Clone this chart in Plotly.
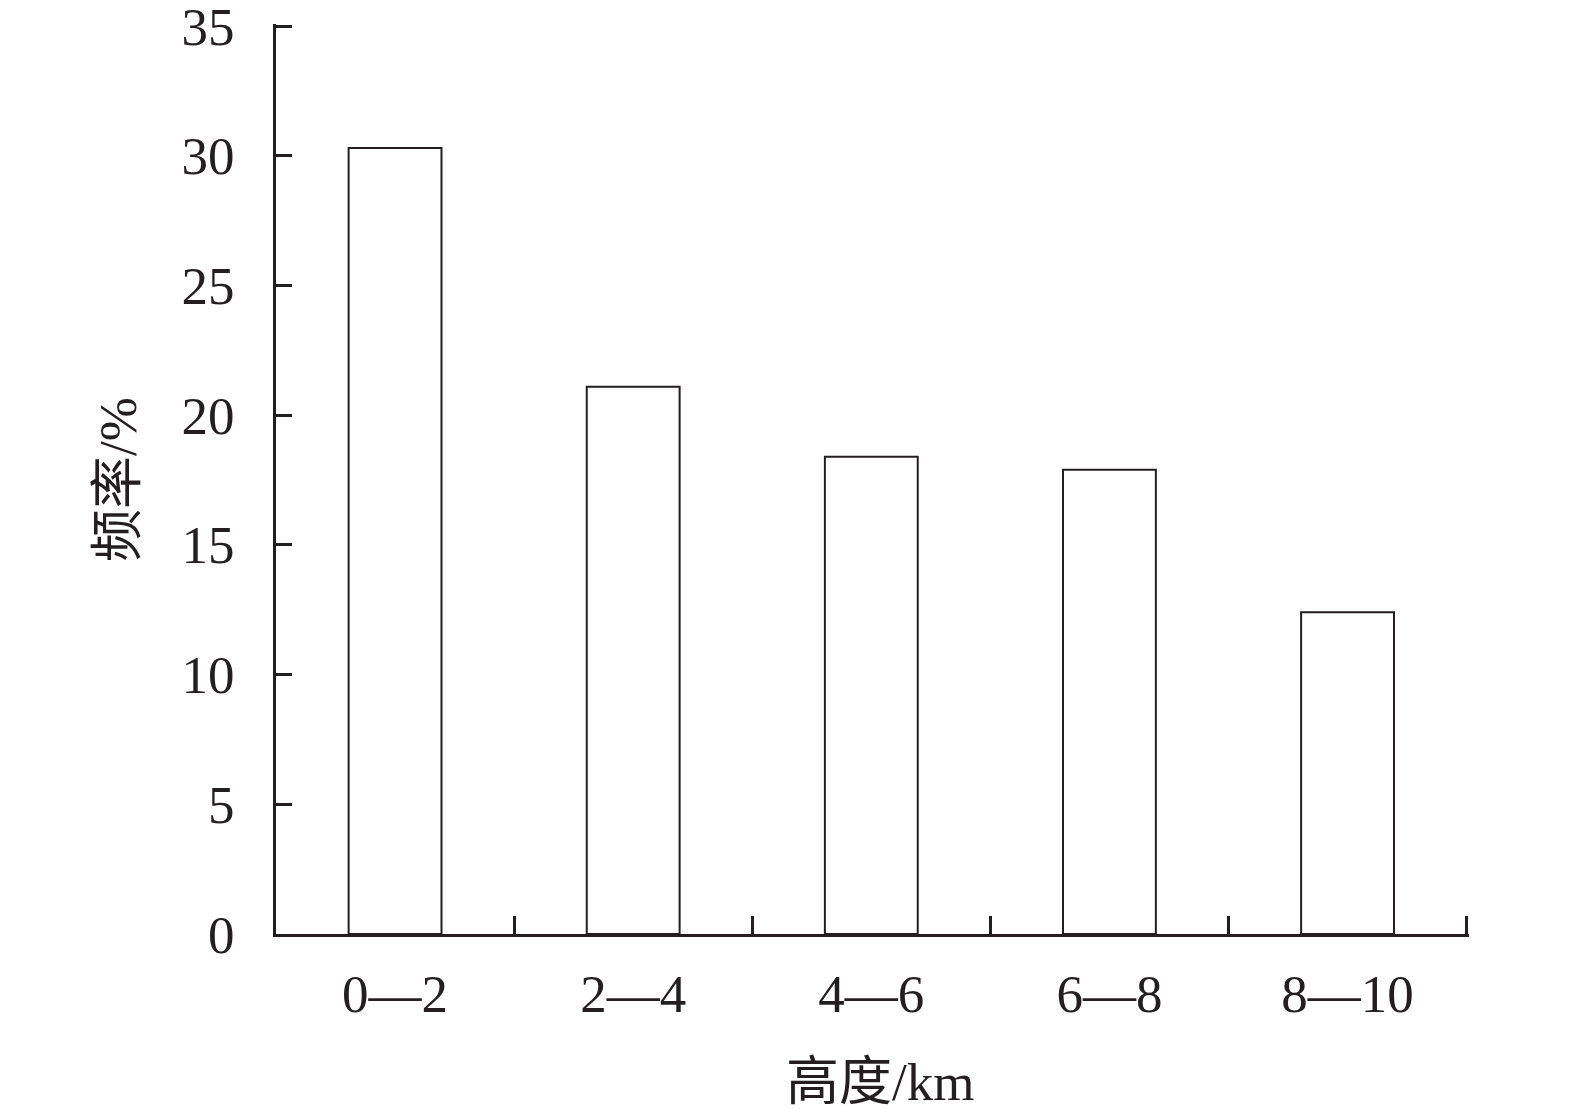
import plotly.graph_objects as go

categories = ["0\u20142", "2\u20144", "4\u20146", "6\u20148", "8\u201410"]
frequency = [30.3, 21.1, 18.4, 17.9, 12.4]
y_ticks = [0, 5, 10, 15, 20, 25, 30, 35]

ink = "#231f20"
font_family = "Liberation Serif, Times New Roman, Noto Sans CJK SC"

# plot area in figure pixels
left, top, plot_w, plot_h = 268, 16, 1193, 910

fig = go.Figure()
fig.add_trace(
    go.Bar(
        x=categories,
        y=frequency,
        marker=dict(color="white", line=dict(color=ink, width=2)),
        width=0.39,
        showlegend=False,
    )
)

fig.update_layout(
    width=1575,
    height=1110,
    margin=dict(l=left, r=1575 - left - plot_w, t=top, b=1110 - top - plot_h),
    plot_bgcolor="white",
    paper_bgcolor="white",
    font=dict(family=font_family, size=53, color=ink),
    xaxis=dict(
        type="category",
        range=[-0.5, 4.51],
        tickson="boundaries",
        ticks="inside",
        ticklen=18,
        tickwidth=3,
        tickcolor=ink,
        showline=True,
        linecolor=ink,
        linewidth=3,
        showgrid=False,
        automargin=False,
        ticklabelstandoff=11,
    ),
    yaxis=dict(
        range=[0, 35.08],
        tickvals=y_ticks,
        ticks="inside",
        ticklen=16,
        tickwidth=3,
        tickcolor=ink,
        showline=True,
        linecolor=ink,
        linewidth=3,
        showgrid=False,
        zeroline=False,
        automargin=False,
        ticklabelstandoff=28,
        ticklabeloverflow="allow",
    ),
    annotations=[
        dict(
            text="高度/km",
            xref="paper",
            yref="paper",
            x=(872 - left) / plot_w,
            y=(top + plot_h - 1074) / plot_h,
            xanchor="center",
            yanchor="middle",
            showarrow=False,
        ),
        dict(
            text="频率/%",
            xref="paper",
            yref="paper",
            x=(110 - left) / plot_w,
            y=(top + plot_h - 472) / plot_h,
            xanchor="center",
            yanchor="middle",
            textangle=-90,
            showarrow=False,
        ),
    ],
)

fig.write_html("out.html")
